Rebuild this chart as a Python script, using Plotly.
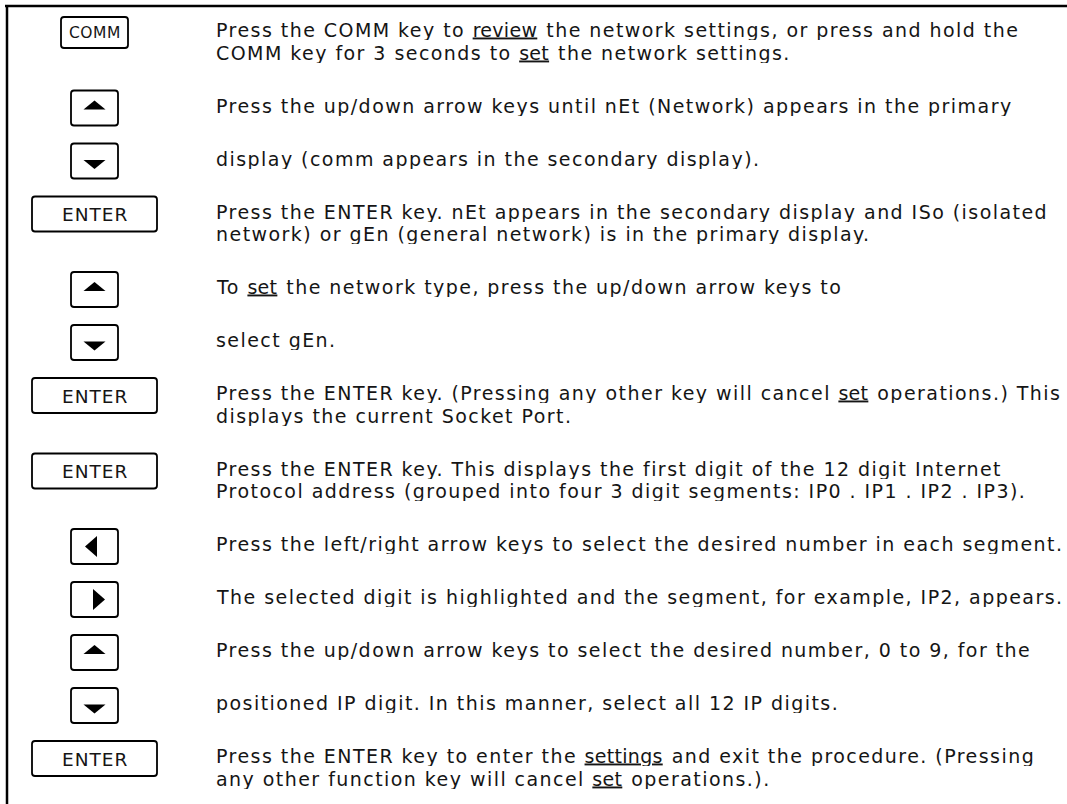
import re
import plotly.graph_objects as go

# ---- content ----
keys = ["COMM", "up", "down", "ENTER", "up", "down", "ENTER", "ENTER",
        "left", "right", "up", "down", "ENTER"]

texts = [
    ["Press the COMM key to <u>review</u> the network settings, or press and hold the",
     "COMM key for 3 seconds to <u>set</u> the network settings."],
    ["Press the up/down arrow keys until nEt (Network) appears in the primary"],
    ["display (comm appears in the secondary display)."],
    ["Press the ENTER key. nEt appears in the secondary display and ISo (isolated",
     "network) or gEn (general network) is in the primary display."],
    ["To <u>set</u> the network type, press the up/down arrow keys to"],
    ["select gEn."],
    ["Press the ENTER key. (Pressing any other key will cancel <u>set</u> operations.) This",
     "displays the current Socket Port."],
    ["Press the ENTER key. This displays the first digit of the 12 digit Internet",
     "Protocol address (grouped into four 3 digit segments: IP0 . IP1 . IP2 . IP3)."],
    ["Press the left/right arrow keys to select the desired number in each segment."],
    ["The selected digit is highlighted and the segment, for example, IP2, appears."],
    ["Press the up/down arrow keys to select the desired number, 0 to 9, for the"],
    ["positioned IP digit. In this manner, select all 12 IP digits."],
    ["Press the ENTER key to enter the <u>settings</u> and exit the procedure. (Pressing",
     "any other function key will cancel <u>set</u> operations.)."],
]

# ---- layout constants ----
W, H = 1067, 804
FONT = "DejaVu Sans"
BODY_SIZE = 19
BODY_LS = 1.45  # px letter spacing
LINE_PITCH = 22.5
ROW_BASE = 53
FIRST_CENTER = 32.5
TEXT_X = 215
KEY_CX = 94.5
BLACK = "#000000"
TEXT_COLOR = "#151515"


def spaced(s, ls):
    """Wrap text with letter spacing; underlined words keep a solid underline."""
    def repl(m):
        word = m.group(1)
        return (f"<span style='text-decoration:underline;letter-spacing:0.3px'>{word}</span>"
                f"<span style='letter-spacing:{2 * ls:.2f}px'> </span>")
    out = re.sub(r"<u>(.*?)</u> ?", repl, s)
    return f"<span style='letter-spacing:{ls}px'>{out}</span>"


def rounded_rect(x0, y0, x1, y1, r=3):
    return (f"M{x0+r},{y0} L{x1-r},{y0} Q{x1},{y0} {x1},{y0+r} "
            f"L{x1},{y1-r} Q{x1},{y1} {x1-r},{y1} L{x0+r},{y1} "
            f"Q{x0},{y1} {x0},{y1-r} L{x0},{y0+r} Q{x0},{y0} {x0+r},{y0} Z")


shapes = []
annotations = []

# frame lines
shapes.append(dict(type="line", x0=5, x1=W, y0=6, y1=6,
                   line=dict(color=BLACK, width=2.5)))
shapes.append(dict(type="line", x0=7, x1=7, y0=5, y1=H,
                   line=dict(color=BLACK, width=2.5)))

cy = FIRST_CENTER
for i, (key, lines) in enumerate(zip(keys, texts)):
    if i > 0:
        cy += ROW_BASE + LINE_PITCH * (len(texts[i - 1]) - 1)
    # key box
    if key == "COMM":
        w, h = 67, 31
    elif key == "ENTER":
        w, h = 125, 35
    else:
        w, h = 47, 35
    x0, x1 = KEY_CX - w / 2, KEY_CX + w / 2
    y0, y1 = cy - h / 2, cy + h / 2
    shapes.append(dict(type="path", path=rounded_rect(x0, y0, x1, y1),
                       line=dict(color=BLACK, width=1.8), fillcolor="white"))
    if key in ("COMM", "ENTER"):
        annotations.append(dict(x=KEY_CX, y=cy + 0.5,
                                text=spaced(key, 0.5 if key == "COMM" else 1),
                                showarrow=False,
                                xanchor="center", yanchor="middle",
                                font=dict(family=FONT,
                                          size=15.5 if key == "COMM" else 18.5,
                                          color=TEXT_COLOR)))
    else:
        if key == "up":
            tcy = cy - 3
            p = f"M{KEY_CX-11},{tcy+4.5} L{KEY_CX+11},{tcy+4.5} L{KEY_CX},{tcy-4.5} Z"
        elif key == "down":
            tcy = cy + 3.5
            p = f"M{KEY_CX-11},{tcy-4.5} L{KEY_CX+11},{tcy-4.5} L{KEY_CX},{tcy+4.5} Z"
        elif key == "left":
            tcx = KEY_CX - 3.5
            p = f"M{tcx+6},{cy-10.5} L{tcx+6},{cy+10.5} L{tcx-6},{cy} Z"
        else:
            tcx = KEY_CX + 4.5
            p = f"M{tcx-6},{cy-10.5} L{tcx-6},{cy+10.5} L{tcx+6},{cy} Z"
        shapes.append(dict(type="path", path=p, fillcolor=BLACK,
                           line=dict(color=BLACK, width=0)))
    # description lines
    for j, line in enumerate(lines):
        annotations.append(dict(x=TEXT_X, y=cy - 3 + j * LINE_PITCH,
                                text=spaced(line, BODY_LS),
                                showarrow=False, xanchor="left", yanchor="middle",
                                height=21, borderpad=0,
                                font=dict(family=FONT, size=BODY_SIZE,
                                          color=TEXT_COLOR)))

fig = go.Figure()
fig.update_layout(
    width=W, height=H,
    margin=dict(l=0, r=0, t=0, b=0),
    paper_bgcolor="white", plot_bgcolor="white",
    xaxis=dict(range=[0, W], visible=False, fixedrange=True),
    yaxis=dict(range=[H, 0], visible=False, fixedrange=True),
    shapes=shapes, annotations=annotations, showlegend=False,
)
fig.write_html("out.html",
               config={"displayModeBar": False, "staticPlot": True},
               post_script="document.body.style.margin='0';"
                           "document.body.style.overflow='hidden';")
